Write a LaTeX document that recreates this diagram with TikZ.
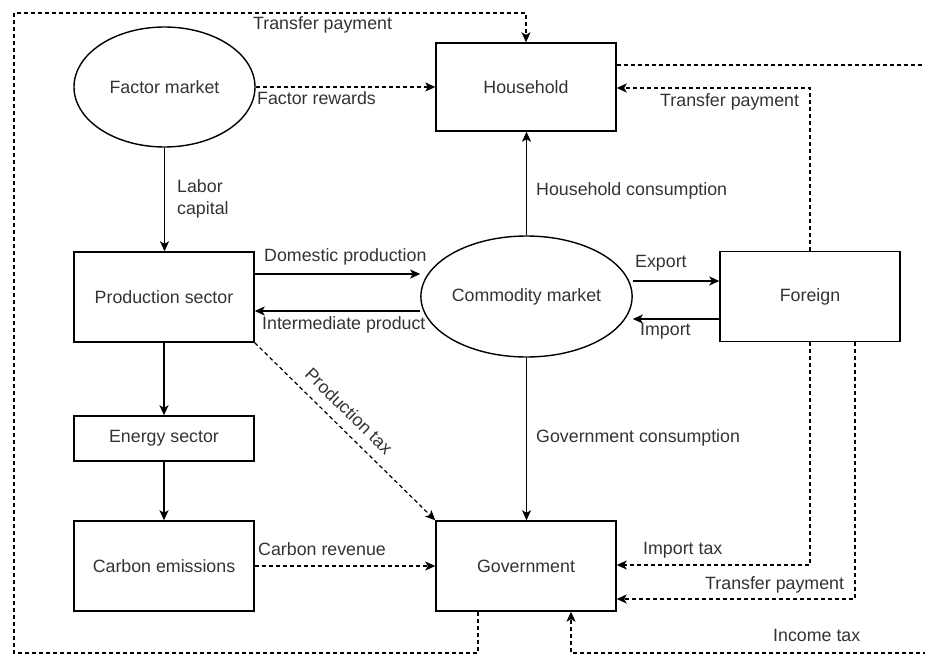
\documentclass[tikz,border=0pt]{standalone}
\usepackage{fontspec}
\setmainfont{Liberation Sans}
\usetikzlibrary{arrows.meta,shapes.geometric}
\definecolor{txt}{RGB}{51,51,51}
\begin{document}
\begin{tikzpicture}[x=1pt,y=-1pt,
  font=\fontsize{17.8pt}{22pt}\selectfont,
  box/.style={draw=black, line width=1.4pt, rectangle, inner sep=0pt, text=txt},
  oval/.style={draw=black, ellipse, line width=1.4pt, inner sep=0pt, text=txt},
  lbl/.style={text=txt, inner sep=0pt, anchor=west},
  arr/.style={line width=1.4pt, -{Stealth[length=10pt,width=9pt,inset=2.5pt]}},
  darr/.style={line width=1.2pt, dash pattern=on 4pt off 3pt, -{Stealth[length=10pt,width=9pt,inset=2.5pt]}}
]
\useasboundingbox (0,0) rectangle (925,655);
\clip (0,0) rectangle (925,655);

% nodes
\node[oval, minimum width=181pt, minimum height=120pt] (fm) at (164.5,87) {Factor market};
\node[box, minimum width=180pt, minimum height=88pt] (hh) at (526,87) {Household};
\node[box, minimum width=180pt, minimum height=90pt] (ps) at (164,297) {Production sector};
\node[oval, minimum width=181pt, minimum height=121pt] (cm) at (526.5,296.5) {Commodity market};
\node[box, minimum width=180pt, minimum height=90pt] (fo) at (810,296.5) {Foreign};
\node[box, minimum width=180pt, minimum height=45pt] (es) at (164,438.5) {Energy sector};
\node[box, minimum width=180pt, minimum height=90pt] (ce) at (164,566) {Carbon emissions};
\node[box, minimum width=180pt, minimum height=90pt] (gv) at (526,566) {Government};

% solid connectors
\draw[arr] (fm.south) -- (fm.south |- ps.north);
\draw[arr] (ps.east |- 0,274) -- (cm.west |- 0,274);
\draw[arr] (cm.west |- 0,311) -- (ps.east |- 0,311);
\draw[arr] (cm.north) -- (cm.north |- hh.south);
\draw[arr] (cm.south) -- (cm.south |- gv.north);
\draw[arr] (cm.east |- 0,281) -- (fo.west |- 0,281);
\draw[arr] (fo.west |- 0,319) -- (cm.east |- 0,319);
\draw[arr] (ps.south) -- (es.north);
\draw[arr] (es.south) -- (ce.north);

% dashed connectors
\draw[darr] (fm.east) -- (hh.west);
\draw[darr] (ps.south east) -- (gv.north west);
\draw[darr] (ce.east) -- (gv.west);
\draw[darr] (fo.north) |- (hh.east |- 0,88);
\draw[darr] (fo.south) |- (gv.east |- 0,565);
\draw[darr] (fo.south -| 855,0) |- (gv.east |- 0,599);
\draw[darr] (gv.south -| 478,0) -- (478,653) -| (14,13) -| (hh.north);
\draw[darr] (hh.east |- 0,65) -- (940,65) |- (571,653) -- (gv.south -| 571,0);

% labels
\node[lbl] at (253,25) {Transfer payment};
\node[lbl] at (257,98) {Factor rewards};
\node[lbl] at (660,102) {Transfer payment};
\node[lbl, align=left] at (177,199) {Labor\\capital};
\node[lbl] at (536,191) {Household consumption};
\node[lbl] at (264,257) {Domestic production};
\node[lbl] at (262,325) {Intermediate product};
\node[lbl] at (635,263) {Export};
\node[lbl] at (640,331) {Import};
\node[text=txt, inner sep=0pt, rotate=-44.5] at (349,411) {Production tax};
\node[lbl] at (536,438) {Government consumption};
\node[lbl] at (258,549) {Carbon revenue};
\node[lbl] at (643,550) {Import tax};
\node[lbl] at (705,585) {Transfer payment};
\node[lbl] at (773,635) {Income tax};
\end{tikzpicture}
\end{document}
